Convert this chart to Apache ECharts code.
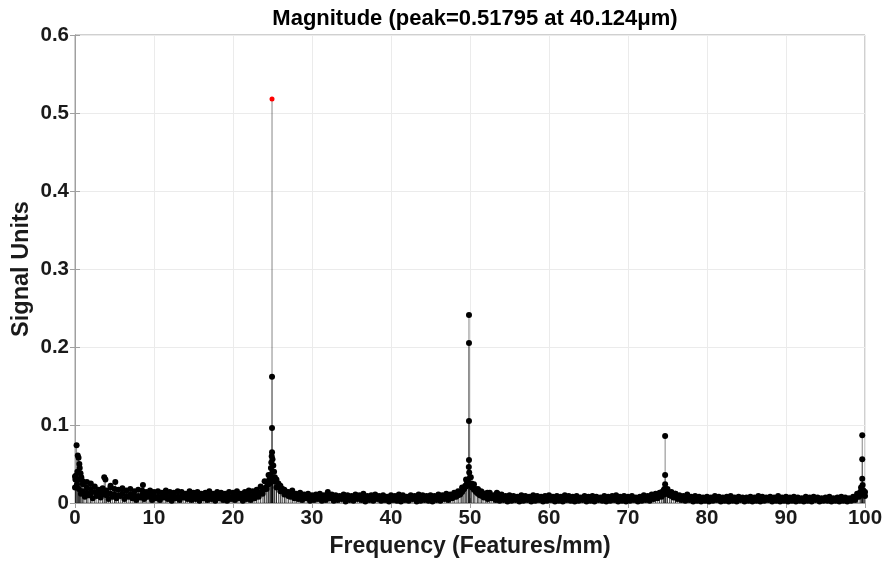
<!DOCTYPE html>
<html>
<head>
<meta charset="utf-8">
<script src="https://cdn.jsdelivr.net/npm/echarts@6/dist/echarts.min.js"></script>
<style>html,body{margin:0;padding:0;background:#fff}#chart{width:885px;height:565px}</style>
</head>
<body>
<div id="chart"></div>
<script>
// ---- data ----
const titleText = 'Magnitude (peak=0.51795 at 40.124\u03bcm)';
const xTicks = [0, 10, 20, 30, 40, 50, 60, 70, 80, 90, 100];
const yTicks = [0, 0.1, 0.2, 0.3, 0.4, 0.5, 0.6];

// noise floor, upper layer: frequencies 0, 0.5, 1.0 ... 100 (one row = 5 Features/mm)
const floorHighStart = 0, floorHighStep = 0.5;
const floorHigh = [
  0.034, 0.030, 0.024, 0.020, 0.018, 0.021, 0.017, 0.019, 0.016, 0.020,
  0.018, 0.017, 0.019, 0.016, 0.018, 0.015, 0.017, 0.016, 0.014, 0.016,
  0.014, 0.015, 0.013, 0.016, 0.014, 0.013, 0.015, 0.014, 0.012, 0.015,
  0.013, 0.014, 0.012, 0.013, 0.015, 0.012, 0.014, 0.013, 0.012, 0.014,
  0.013, 0.015, 0.012, 0.014, 0.016, 0.015, 0.017, 0.021, 0.028, 0.036,
  0.040, 0.030, 0.022, 0.017, 0.014, 0.016, 0.012, 0.013, 0.011, 0.012,
  0.010, 0.011, 0.012, 0.010, 0.014, 0.011, 0.010, 0.009, 0.011, 0.010,
  0.009, 0.011, 0.010, 0.012, 0.009, 0.010, 0.011, 0.009, 0.010, 0.008,
  0.010, 0.009, 0.011, 0.010, 0.008, 0.010, 0.009, 0.011, 0.010, 0.009,
  0.010, 0.009, 0.011, 0.010, 0.012, 0.011, 0.013, 0.015, 0.020, 0.030,
  0.033, 0.024, 0.018, 0.014, 0.012, 0.013, 0.010, 0.012, 0.011, 0.009,
  0.010, 0.009, 0.008, 0.010, 0.009, 0.008, 0.010, 0.009, 0.008, 0.009,
  0.010, 0.008, 0.009, 0.008, 0.010, 0.009, 0.008, 0.009, 0.007, 0.009,
  0.008, 0.009, 0.008, 0.007, 0.009, 0.008, 0.009, 0.010, 0.008, 0.009,
  0.008, 0.009, 0.007, 0.008, 0.010, 0.009, 0.011, 0.012, 0.013, 0.016,
  0.018, 0.014, 0.012, 0.010, 0.009, 0.011, 0.008, 0.009, 0.008, 0.007,
  0.008, 0.007, 0.009, 0.008, 0.007, 0.008, 0.009, 0.007, 0.008, 0.007,
  0.007, 0.008, 0.007, 0.009, 0.008, 0.007, 0.008, 0.007, 0.009, 0.007,
  0.008, 0.007, 0.008, 0.007, 0.006, 0.008, 0.007, 0.008, 0.007, 0.006,
  0.007, 0.008, 0.006, 0.007, 0.008, 0.007, 0.006, 0.008, 0.012, 0.020,
  0.014
];

// noise floor, middle layer: same frequencies as the upper layer
const floorMid = [
  0.020, 0.018, 0.015, 0.013, 0.012, 0.014, 0.011, 0.013, 0.010, 0.012,
  0.011, 0.010, 0.012, 0.009, 0.011, 0.010, 0.009, 0.010, 0.008, 0.010,
  0.009, 0.008, 0.009, 0.010, 0.008, 0.009, 0.008, 0.009, 0.007, 0.009,
  0.008, 0.009, 0.007, 0.008, 0.009, 0.007, 0.008, 0.009, 0.007, 0.008,
  0.008, 0.009, 0.007, 0.008, 0.010, 0.009, 0.011, 0.014, 0.019, 0.024,
  0.028, 0.020, 0.015, 0.011, 0.009, 0.010, 0.008, 0.008, 0.007, 0.008,
  0.006, 0.007, 0.008, 0.006, 0.008, 0.007, 0.006, 0.006, 0.007, 0.006,
  0.006, 0.007, 0.006, 0.007, 0.006, 0.006, 0.007, 0.006, 0.006, 0.005,
  0.006, 0.006, 0.007, 0.006, 0.005, 0.006, 0.006, 0.007, 0.006, 0.006,
  0.006, 0.006, 0.007, 0.006, 0.007, 0.007, 0.008, 0.010, 0.014, 0.021,
  0.024, 0.017, 0.012, 0.009, 0.008, 0.008, 0.006, 0.007, 0.007, 0.006,
  0.006, 0.006, 0.005, 0.006, 0.006, 0.005, 0.006, 0.006, 0.005, 0.006,
  0.006, 0.005, 0.006, 0.005, 0.006, 0.006, 0.005, 0.006, 0.005, 0.006,
  0.005, 0.006, 0.005, 0.005, 0.006, 0.005, 0.006, 0.006, 0.005, 0.006,
  0.005, 0.006, 0.005, 0.005, 0.006, 0.006, 0.007, 0.008, 0.009, 0.011,
  0.012, 0.009, 0.008, 0.007, 0.006, 0.007, 0.005, 0.006, 0.005, 0.005,
  0.005, 0.005, 0.006, 0.005, 0.005, 0.005, 0.006, 0.005, 0.005, 0.005,
  0.005, 0.005, 0.005, 0.006, 0.005, 0.005, 0.005, 0.005, 0.006, 0.005,
  0.005, 0.005, 0.005, 0.005, 0.004, 0.005, 0.005, 0.005, 0.005, 0.004,
  0.005, 0.005, 0.004, 0.005, 0.005, 0.005, 0.004, 0.005, 0.008, 0.014,
  0.009
];

// noise floor, lower layer: frequencies 0.25, 0.75 ... 99.75
const floorLowStart = 0.25, floorLowStep = 0.5;
const floorLow = [
  0.024, 0.012, 0.008, 0.010, 0.006, 0.009, 0.007, 0.011, 0.005, 0.008,
  0.006, 0.009, 0.005, 0.008, 0.006, 0.004, 0.007, 0.005, 0.008, 0.004,
  0.006, 0.004, 0.007, 0.005, 0.003, 0.006, 0.004, 0.007, 0.005, 0.004,
  0.005, 0.003, 0.006, 0.004, 0.005, 0.003, 0.006, 0.004, 0.003, 0.005,
  0.004, 0.006, 0.003, 0.005, 0.004, 0.006, 0.008, 0.012, 0.018, 0.026,
  0.030, 0.025, 0.018, 0.012, 0.008, 0.006, 0.005, 0.004, 0.006, 0.003,
  0.004, 0.005, 0.003, 0.004, 0.006, 0.003, 0.004, 0.005, 0.002, 0.004,
  0.003, 0.005, 0.004, 0.002, 0.004, 0.003, 0.005, 0.003, 0.004, 0.002,
  0.004, 0.003, 0.002, 0.004, 0.003, 0.005, 0.002, 0.003, 0.004, 0.003,
  0.002, 0.004, 0.003, 0.005, 0.004, 0.006, 0.008, 0.011, 0.018, 0.027,
  0.020, 0.014, 0.010, 0.007, 0.005, 0.006, 0.004, 0.003, 0.004, 0.002,
  0.003, 0.004, 0.002, 0.003, 0.004, 0.002, 0.003, 0.004, 0.002, 0.003,
  0.004, 0.002, 0.003, 0.002, 0.004, 0.003, 0.002, 0.003, 0.004, 0.002,
  0.003, 0.002, 0.004, 0.003, 0.002, 0.003, 0.004, 0.002, 0.003, 0.002,
  0.003, 0.004, 0.002, 0.003, 0.004, 0.003, 0.005, 0.006, 0.008, 0.012,
  0.010, 0.007, 0.005, 0.004, 0.003, 0.004, 0.002, 0.003, 0.002, 0.003,
  0.002, 0.003, 0.004, 0.002, 0.003, 0.002, 0.003, 0.002, 0.004, 0.002,
  0.003, 0.002, 0.003, 0.002, 0.003, 0.004, 0.002, 0.003, 0.002, 0.003,
  0.002, 0.003, 0.002, 0.003, 0.002, 0.003, 0.002, 0.004, 0.002, 0.003,
  0.003, 0.002, 0.003, 0.002, 0.003, 0.002, 0.003, 0.004, 0.008, 0.012
];

// individual samples around the peaks and the low-frequency end
const extraFreq = [
  24.94, 24.94, 24.94, 24.90, 25.00, 24.85, 25.10, 24.80, 25.20, 24.70, 25.30, 24.60, 25.50, 24.40, 25.80, 24.20, 26.20, 23.90, 26.60,
  49.87, 49.87, 49.87, 49.87, 49.85, 49.90, 50.10, 49.60, 50.20, 49.40, 50.50, 49.20, 51.00, 48.90, 51.40, 52.20, 53.40,
  74.70, 74.70, 74.70, 74.60, 74.90, 74.30, 75.30, 76.00,
  99.65, 99.65, 99.65, 99.70, 99.60, 99.80, 99.40, 99.90,
  0.20, 0.35, 0.45, 0.55, 0.60, 0.30, 0.10, 0.80, 1.00, 1.50, 3.70, 3.85, 5.10, 8.60, 2.00, 4.50, 0.05, 0.70
];
const extraMag = [
  0.162, 0.096, 0.065, 0.060, 0.056, 0.052, 0.048, 0.045, 0.040, 0.036, 0.033, 0.030, 0.027, 0.025, 0.022, 0.020, 0.018, 0.017, 0.015,
  0.241, 0.205, 0.105, 0.055, 0.046, 0.039, 0.033, 0.028, 0.025, 0.022, 0.020, 0.018, 0.017, 0.015, 0.015, 0.013, 0.013,
  0.086, 0.036, 0.024, 0.018, 0.016, 0.014, 0.013, 0.012,
  0.087, 0.056, 0.031, 0.023, 0.018, 0.016, 0.014, 0.012,
  0.074, 0.061, 0.058, 0.050, 0.045, 0.040, 0.035, 0.033, 0.028, 0.027, 0.033, 0.030, 0.027, 0.023, 0.025, 0.022, 0.030, 0.038
];
const peakFreq = [24.94];
const peakMag = [0.51795];

// ---- build point lists ----
const pts = [];
floorHigh.forEach((v, i) => pts.push([floorHighStart + i * floorHighStep, v]));
floorMid.forEach((v, i) => pts.push([floorHighStart + i * floorHighStep, v]));
floorLow.forEach((v, i) => pts.push([floorLowStart + i * floorLowStep, v]));
extraFreq.forEach((f, i) => pts.push([f, extraMag[i]]));
const peakPts = peakFreq.map((f, i) => [f, peakMag[i]]);
const stemPts = pts.concat(peakPts);

const FONT = 'Liberation Sans, Arial, Helvetica, sans-serif';
const AXC = '#a0a0a0';
const TXT = '#1a1a1a';

const chart = echarts.init(document.getElementById('chart'), null, {renderer: 'canvas'});
chart.setOption({
  animation: false,
  backgroundColor: '#fff',
  title: {
    text: titleText, left: 470, top: 3, textAlign: 'center',
    textStyle: {fontFamily: FONT, fontWeight: 'bold', fontSize: 22, color: '#000'}
  },
  grid: {left: 75, right: 20, top: 35, bottom: 62, containLabel: false, outerBoundsMode: 'none',
    show: true, borderColor: AXC, borderWidth: 1, backgroundColor: 'transparent'},
  xAxis: [{
    type: 'value', min: 0, max: 100, interval: 10,
    name: 'Frequency (Features/mm)', nameLocation: 'middle', nameGap: 32, nameMoveOverlap: false,
    nameTextStyle: {fontFamily: FONT, fontWeight: 'bold', fontSize: 23, color: TXT},
    axisLine: {show: true, lineStyle: {color: AXC, width: 1}},
    axisTick: {show: true, inside: true, length: 5, lineStyle: {color: AXC}},
    axisLabel: {margin: 5, fontFamily: FONT, fontWeight: 'bold', fontSize: 20.5, color: TXT,
      formatter: v => xTicks.indexOf(v) >= 0 ? String(v) : ''},
    splitLine: {show: true, lineStyle: {color: '#ebebeb', width: 1}}
  }, {
    type: 'value', min: 0, max: 100, interval: 10, position: 'top',
    axisLine: {show: true, lineStyle: {color: AXC}},
    axisTick: {show: true, inside: true, length: 5, lineStyle: {color: AXC}},
    axisLabel: {show: false}, splitLine: {show: false}
  }],
  yAxis: [{
    type: 'value', min: 0, max: 0.6, interval: 0.1,
    name: 'Signal Units', nameLocation: 'middle', nameGap: 41, nameMoveOverlap: false,
    nameTextStyle: {fontFamily: FONT, fontWeight: 'bold', fontSize: 23.5, color: TXT},
    axisLine: {show: true, lineStyle: {color: AXC, width: 1}},
    axisTick: {show: true, inside: true, length: 5, lineStyle: {color: AXC}},
    axisLabel: {margin: 6, fontFamily: FONT, fontWeight: 'bold', fontSize: 20.5, color: TXT,
      formatter: v => { const t = yTicks.find(y => Math.abs(y - v) < 1e-9); return t === undefined ? '' : (t === 0 ? '0' : t.toFixed(1)); }},
    splitLine: {show: true, lineStyle: {color: '#ebebeb', width: 1}}
  }, {
    type: 'value', min: 0, max: 0.6, interval: 0.1, position: 'right',
    axisLine: {show: true, lineStyle: {color: AXC}},
    axisTick: {show: true, inside: true, length: 5, lineStyle: {color: AXC}},
    axisLabel: {show: false}, splitLine: {show: false}
  }],
  series: [{
    type: 'custom', name: 'stems', xAxisIndex: 0, yAxisIndex: 0, clip: true,
    data: stemPts,
    renderItem: function (params, api) {
      const p0 = api.coord([api.value(0), 0]);
      const p1 = api.coord([api.value(0), api.value(1)]);
      return {type: 'line', shape: {x1: p0[0], y1: p0[1], x2: p1[0], y2: p1[1]},
        style: {stroke: 'rgba(0,0,0,0.6)', lineWidth: 0.8}};
    },
    z: 2
  }, {
    type: 'scatter', name: 'samples', data: pts, symbol: 'circle', symbolSize: 6,
    itemStyle: {color: '#000', opacity: 1}, clip: false, z: 3, silent: true
  }, {
    type: 'scatter', name: 'peak', data: peakPts, symbol: 'circle', symbolSize: 5,
    itemStyle: {color: '#ff0000', opacity: 1}, clip: false, z: 4, silent: true
  }]
});
</script>
</body>
</html>
